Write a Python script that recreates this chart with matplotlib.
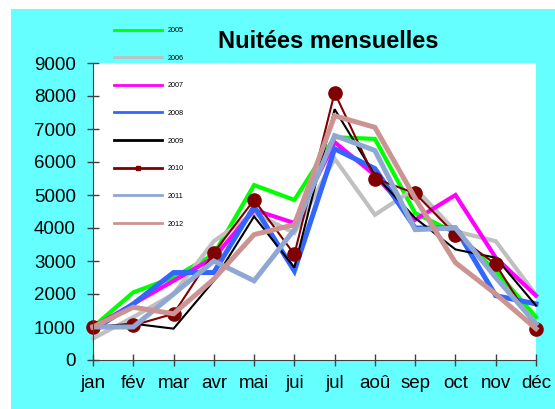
import matplotlib.pyplot as plt
from matplotlib.lines import Line2D
from matplotlib.patches import Rectangle

plt.rcParams['font.family'] = ['Liberation Sans', 'DejaVu Sans']

mois = ['jan', 'fév', 'mar', 'avr', 'mai', 'jui', 'jul', 'aoû', 'sep', 'oct', 'nov', 'déc']

n2005 = [1000, 2050, 2500, 3200, 5300, 4850, 6750, 6700, 4450, 3850, 2700, 1300]
n2006 = [650, 1300, 2000, 3600, 4450, 3850, 6100, 4400, 5200, 3900, 3600, 1970]
n2007 = [1000, 1700, 2400, 3100, 4550, 4150, 6600, 5600, 4250, 5000, 3100, 1950]
n2008 = [900, 1700, 2650, 2650, 4650, 2700, 6400, 5800, 4000, 4000, 1950, 1700]
n2009 = [1000, 1100, 950, 2400, 4350, 2800, 7600, 5600, 4300, 3350, 3100, 1650]
n2010 = [1000, 1050, 1400, 3250, 4850, 3200, 8100, 5500, 5050, 3800, 2900, 950]
n2011 = [1000, 1000, 2000, 3000, 2400, 3950, 6800, 6350, 3950, 4000, 2500, 1100]
n2012 = [1000, 1600, 1400, 2450, 3800, 4100, 7400, 7050, 4900, 2950, 2000, 950]

annees = ['2005', '2006', '2007', '2008', '2009', '2010', '2011', '2012']
series = [n2005, n2006, n2007, n2008, n2009, n2010, n2011, n2012]
couleurs = ['#00FF00', '#C0C0C0', '#FF00FF', '#3366FF', '#000000', '#800000', '#8FA8D3', '#CC9393']
epaisseurs = [3, 3, 3, 3.6, 1.5, 1.5, 3.6, 3.6]

fig = plt.figure(figsize=(5.55, 4.09), dpi=100)
fig.patches.append(Rectangle((11 / 555, 0), 1, 1 - 9 / 409, transform=fig.transFigure,
                             facecolor='#66FFFF', edgecolor='none', zorder=-10))
ax = fig.add_axes([93 / 555, 49 / 409, 443 / 555, 297 / 409])
ax.set_facecolor('white')

x = range(len(mois))
for annee, val, c, lw in zip(annees, series, couleurs, epaisseurs):
    if annee == '2010':
        ax.plot(x, val, color=c, lw=lw, marker='o', markersize=9.5, clip_on=False)
    else:
        ax.plot(x, val, color=c, lw=lw, clip_on=False, solid_joinstyle='miter')

ax.set_xlim(0, 11)
ax.set_ylim(0, 9000)
ax.set_yticks(range(0, 9001, 1000))
ax.set_xticks(list(x))
ax.set_xticklabels(mois)
for s in ['top', 'right']:
    ax.spines[s].set_visible(False)
for s in ['left', 'bottom']:
    ax.spines[s].set_color('#404040')
ax.tick_params(direction='inout', length=8, color='#404040', labelsize=13.5, width=1)
ax.tick_params(axis='y', pad=8.3)
ax.tick_params(axis='x', pad=7)

fig.text(328 / 555, 1 - 48 / 409, 'Nuitées mensuelles', ha='center', va='baseline',
         fontsize=17, fontweight='bold')

poignees = []
for annee, c in zip(annees, couleurs):
    if annee == '2010':
        poignees.append(Line2D([], [], color=c, lw=2, marker='s', markersize=2.5))
    else:
        poignees.append(Line2D([], [], color=c, lw=2))
fig.legend(poignees, annees, loc='upper left', bbox_to_anchor=(114 / 555, 1 - 27 / 409),
           bbox_transform=fig.transFigure, frameon=False, fontsize=5.2, borderpad=0,
           borderaxespad=0, handlelength=6.7, handletextpad=0.7, labelspacing=2.85)

fig.savefig('out.png', dpi=100)
